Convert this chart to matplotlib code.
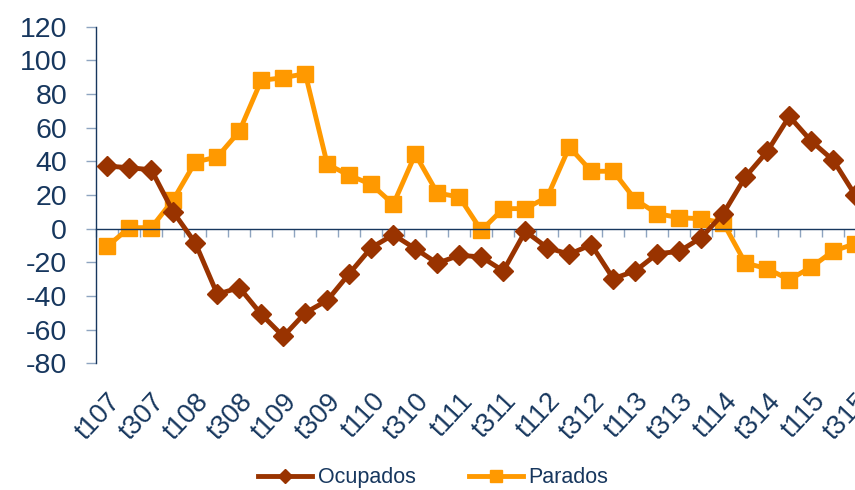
import matplotlib.pyplot as plt
import numpy as np

# quarters t107 .. t315
quarters = [f"t{q}{y:02d}" for y in range(7, 16) for q in range(1, 5)][:35]

ocupados = [37.2, 36.2, 35.0, 9.9, -8.5, -39.0, -35.0, -50.9, -64.0, -50.0,
            -42.6, -26.7, -11.3, -3.6, -11.9, -20.6, -15.8, -16.8, -25.1, -1.6,
            -11.3, -15.2, -9.5, -29.7, -25.1, -14.9, -13.5, -5.3, 8.9, 30.7,
            45.9, 66.7, 52.0, 40.6, 19.8]
parados = [-10.5, 0.6, 0.6, 17.2, 39.6, 42.6, 57.8, 88.1, 89.7, 92.1,
           38.2, 31.7, 26.3, 14.5, 44.2, 21.2, 18.8, -1.0, 11.9, 11.9,
           18.8, 48.5, 34.1, 34.1, 17.2, 8.9, 6.5, 5.9, 3.4, -20.4,
           -23.8, -30.3, -22.8, -13.3, -8.9]
yticks = list(range(-80, 121, 20))

navy = '#17375E'
light = '#8EA4C0'
c_ocu = '#993300'
c_par = '#FF9900'

plt.rcParams['font.family'] = ['Liberation Sans', 'DejaVu Sans']
plt.rcParams['axes.unicode_minus'] = False

fig = plt.figure(figsize=(8.55, 4.9), dpi=100)
# axes extends past the right edge of the figure (chart was cropped)
ax = fig.add_axes([96.3 / 855, (490 - 363.3) / 490, 770 / 855, 336.6 / 490])

x = np.arange(len(quarters))
ax.plot(x, ocupados, color=c_ocu, lw=3.5, marker='D', ms=10, label='Ocupados', zorder=3)
ax.plot(x, parados, color=c_par, lw=3.5, marker='s', ms=11.5, label='Parados', zorder=2)

ax.set_xlim(-0.5, len(quarters) - 0.5)
ax.set_ylim(-80, 120)
ax.set_yticks(yticks)

for s in ['top', 'right']:
    ax.spines[s].set_visible(False)
ax.spines['left'].set_color(navy)
ax.spines['left'].set_linewidth(1.0)
ax.spines['bottom'].set_position(('data', 0))
ax.spines['bottom'].set_color(navy)
ax.spines['bottom'].set_linewidth(1.0)

ax.tick_params(axis='y', direction='out', length=7, width=1, color=light,
               labelsize=20.5, labelcolor=navy, pad=14)
ax.set_xticks(np.arange(-0.5, len(quarters), 1))
ax.tick_params(axis='x', direction='out', length=6, width=1, color=light,
               labelbottom=False)

sec = ax.secondary_xaxis('bottom')
sec.set_xticks(x[::2], labels=quarters[::2])
sec.spines['bottom'].set_visible(False)
sec.tick_params(length=0, pad=18, labelsize=19.5, labelcolor=navy)
for lbl in sec.get_xticklabels():
    lbl.set_rotation(47)
    lbl.set_ha('right')
    lbl.set_rotation_mode('anchor')

fig.legend(loc='center', bbox_to_anchor=(0.507, 0.0245), ncol=2, frameon=False,
           fontsize=15.5, labelcolor=navy, handlelength=2.5, handletextpad=0.25,
           columnspacing=2.5, markerscale=0.7)

fig.savefig('out.png', dpi=100)
